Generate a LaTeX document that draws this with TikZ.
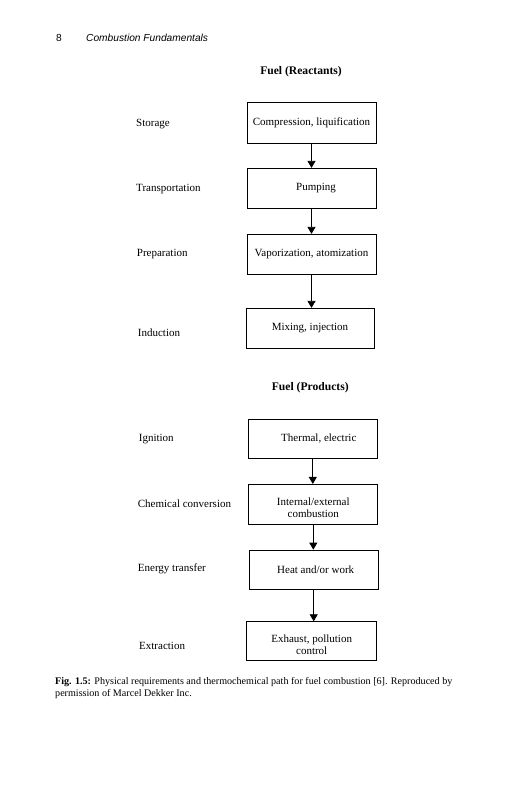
\documentclass[tikz,border=0pt]{standalone}
\usepackage{fontspec}
\setmainfont{Liberation Serif}
\newfontfamily\hdrfont{Liberation Sans}
\usetikzlibrary{arrows.meta}
\begin{document}
\begin{tikzpicture}[x=1pt,y=-1pt,
  box/.style={draw, line width=0.8pt, minimum width=129pt, minimum height=40pt, inner sep=2pt, font=\fontsize{11}{12.3}\selectfont},
  twoline/.style={align=center, text height=27pt, text depth=0pt},
  lbl/.style={anchor=base west, inner sep=0pt, font=\fontsize{11}{13}\selectfont},
  ttl/.style={anchor=base, inner sep=0pt, font=\fontsize{11.6}{14}\selectfont\bfseries},
  arr/.style={-{Triangle[width=8pt,length=7pt]}, line width=0.8pt},
  hdr/.style={anchor=base west, inner sep=0pt, font=\fontsize{10.2}{12}\selectfont\hdrfont}]
\useasboundingbox (0,0) rectangle (531,800);
\fill[white] (0,0) rectangle (531,800);
% running header
\node[hdr] (pnum) at (56,41.5) {8};
\node[hdr] (run) at (86,41.5) {\itshape Combustion Fundamentals};
% titles
\node[ttl] (t1) at (301,74.5) {Fuel (Reactants)};
\node[ttl] (t2) at (310.3,390) {Fuel (Products)};
% boxes
\node[box, minimum height=41pt] (b1) at (311.5,122.8) {Compression, liquification};
\node[box] (b2) at (311.5,188.3) {\hspace{9pt}Pumping};
\node[box] (b3) at (311.5,254.3) {Vaporization, atomization};
\node[box, minimum width=128pt] (b4) at (310,328.3) {Mixing, injection\hspace{15pt}};
\node[box, minimum height=39pt] (b5) at (312.8,438.8) {\hspace{12pt}Thermal, electric};
\node[box, twoline, minimum height=39.7pt] (b6) at (313.3,504.2) {Internal/external\\combustion};
\node[box, minimum height=39.3pt] (b7) at (313.7,569.7) {\hspace{4pt}Heat and/or work};
\node[box, twoline, minimum width=130pt, minimum height=39pt] (b8) at (311.7,641.2) {Exhaust, pollution\\control};
% arrows
\draw[arr] (b1.south) -- (b1.south |- b2.north);
\draw[arr] (b2.south) -- (b2.south |- b3.north);
\draw[arr] (b3.south) -- (b3.south |- b4.north);
\draw[arr] (b5.south) -- (b5.south |- b6.north);
\draw[arr] (b6.south) -- (b6.south |- b7.north);
\draw[arr] (b7.south) -- (b7.south |- b8.north);
% left labels
\node[lbl] (l1) at (136,126) {Storage};
\node[lbl] (l2) at (136,191.4) {Transportation};
\node[lbl] (l3) at (136.7,256.7) {Preparation};
\node[lbl] (l4) at (137.7,336.4) {Induction};
\node[lbl] (l5) at (138.7,441.4) {Ignition};
\node[lbl] (l6) at (137.7,507) {Chemical conversion};
\node[lbl] (l7) at (137.7,571.4) {Energy transfer};
\node[lbl] (l8) at (139,649.7) {Extraction};
% caption
\node[anchor=north west, inner sep=0pt, align=left, font=\fontsize{10.1}{12.4}\selectfont] (cap) at (55,677) {\textbf{Fig. 1.5:} Physical requirements and thermochemical path for fuel combustion [6]. Reproduced by\\permission of Marcel Dekker Inc.};
\end{tikzpicture}
\end{document}
